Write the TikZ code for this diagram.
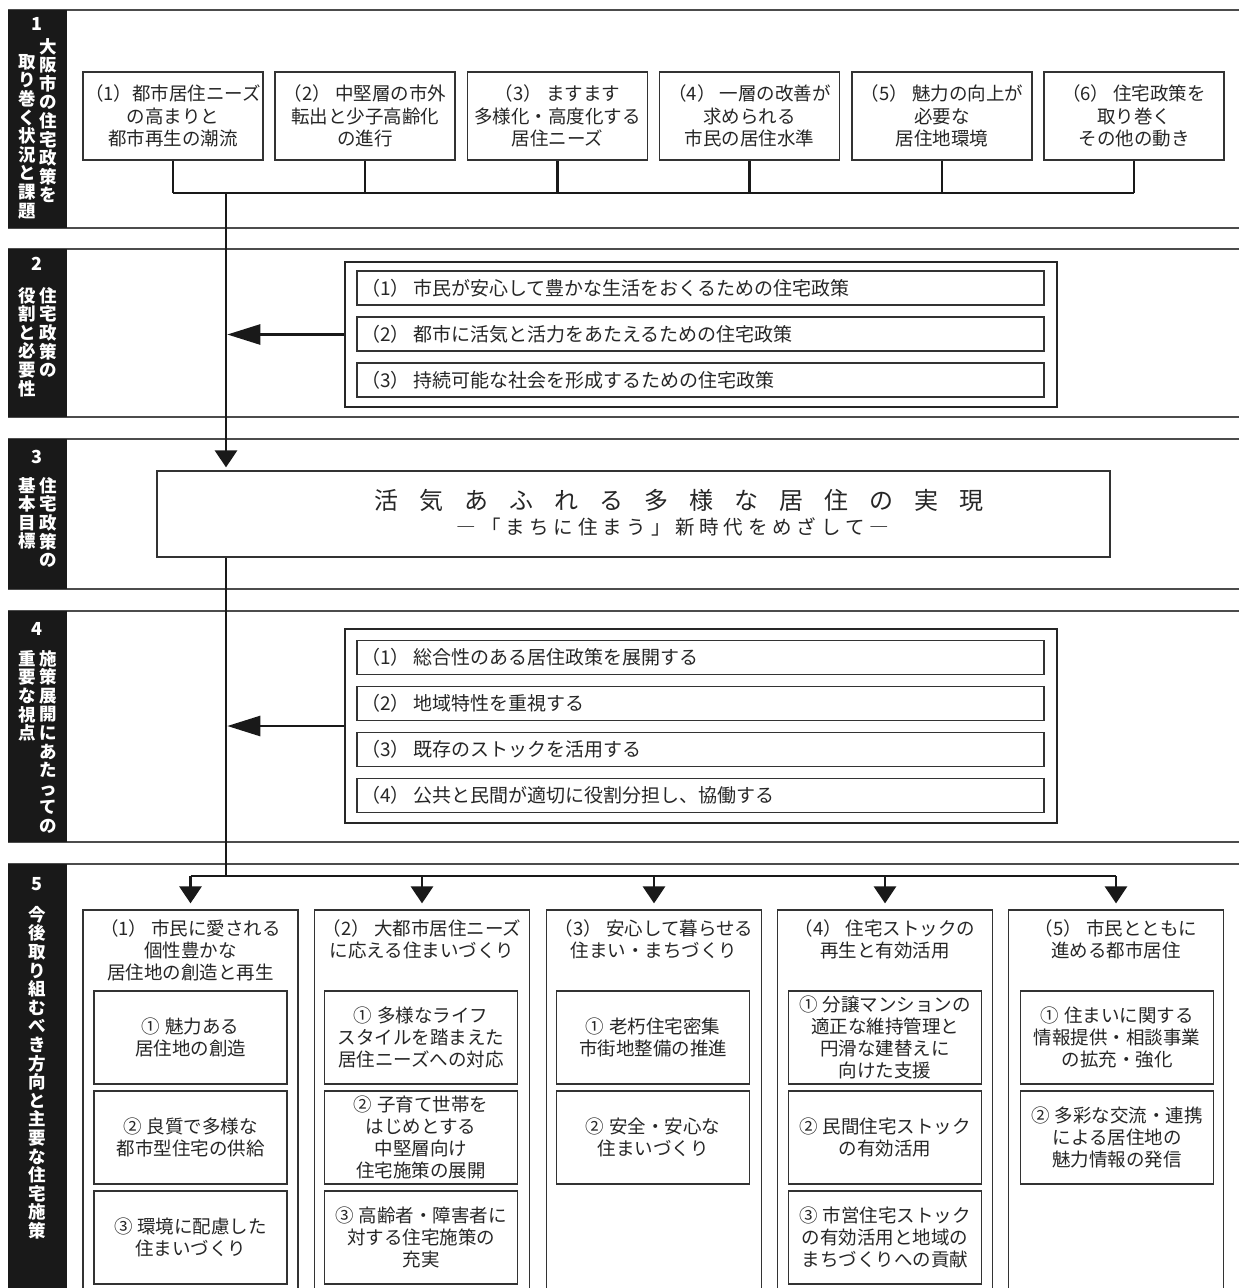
\documentclass[tikz,border=0pt]{standalone}
\usepackage{fontspec}
\setmainfont{Noto Sans CJK JP}
\newfontfamily\jp{Noto Sans CJK JP}
\usetikzlibrary{arrows.meta}
\newlength\ltrgap
\def\ltrloop#1#2\endltr{#1\ifx\relax#2\relax\else\hspace{\ltrgap}\ltrloop#2\endltr\fi}
\newcommand\ltr[2]{\setlength\ltrgap{#1}\ltrloop#2\endltr}
\newcommand\pn[1]{（#1）\hspace{4pt}}
\newcommand\cn[1]{#1\hspace{5pt}}
\begin{document}
\begin{tikzpicture}[x=1pt,y=-1pt,
  bandline/.style={draw=black!70, line width=1.5pt},
  sidebar/.style={fill=black!90},
  secnum/.style={text=white, font=\jp\bfseries\fontsize{18}{18}\selectfont, inner sep=0pt},
  vtext/.style={text=white, font=\jp\bfseries\fontsize{17.5}{18.6}\selectfont, align=center, inner sep=0pt, anchor=north},
  sbox/.style={draw=black!80, line width=1.2pt, inner sep=0pt, align=center, text=black!85,
     font=\jp\fontsize{18.5}{22.5}\selectfont, minimum width=180pt, minimum height=88pt},
  outerbox/.style={draw=black!85, line width=1.6pt, inner sep=0pt, minimum width=712pt},
  lbox/.style={draw=black!80, line width=1.2pt, inner xsep=4pt, inner ysep=0pt, align=left, text=black!85,
     font=\jp\fontsize{19}{22}\selectfont, text width=679pt, minimum height=34pt},
  goalbox/.style={draw=black!80, line width=1.2pt, inner sep=0pt, minimum width=953pt, minimum height=86pt},
  colbox/.style={draw=black!80, line width=1.2pt, inner sep=0pt, minimum width=215pt, minimum height=400pt},
  ctitle/.style={inner sep=0pt, align=center, text=black!85, font=\jp\fontsize{18.5}{22}\selectfont, anchor=north},
  ibox/.style={draw=black!80, line width=1.2pt, inner sep=0pt, align=center, text=black!85,
     font=\jp\fontsize{18.5}{22}\selectfont, minimum width=193pt, minimum height=93pt},
  conn/.style={draw=black!90, line width=2.6pt},
  htip/.style={-{Triangle[width=20pt,length=33pt]}},
  vtip/.style={-{Triangle[width=22pt,length=17pt]}},
]
\useasboundingbox (0,0) rectangle (1239,1288);
\fill[white] (0,0) rectangle (1239,1288);

% ---------- section bands ----------
\foreach \t/\b in {10/228, 249/417, 439/589, 611/842} {
  \draw[bandline] (8,\t) -- (1239,\t);
  \draw[bandline] (8,\b) -- (1239,\b);
  \fill[sidebar] (8,\t) rectangle (67,\b);
}
\draw[bandline] (8,864) -- (1239,864);
\fill[sidebar] (8,864) rectangle (67,1290);

% ---------- sidebar labels ----------
\node[secnum] (n1) at (37,24) {1};
\node[vtext] (v1a) at (48,38) {大\\阪\\市\\の\\住\\宅\\政\\策\\を};
\node[vtext] (v1b) at (27,54) {取\\り\\巻\\く\\状\\況\\と\\課\\題};
\node[secnum] (n2) at (37,264) {2};
\node[vtext] (v2a) at (48,287) {住\\宅\\政\\策\\の};
\node[vtext] (v2b) at (27,287) {役\\割\\と\\必\\要\\性};
\node[secnum] (n3) at (37,457) {3};
\node[vtext] (v3a) at (48,477) {住\\宅\\政\\策\\の};
\node[vtext] (v3b) at (27,477) {基\\本\\目\\標};
\node[secnum] (n4) at (37,629) {4};
\node[vtext] (v4a) at (48,650) {施\\策\\展\\開\\に\\あ\\た\\っ\\て\\の};
\node[vtext] (v4b) at (27,650) {重\\要\\な\\視\\点};
\node[secnum] (n5) at (37,884) {5};
\node[vtext] (v5a) at (37,906) {今\\後\\取\\り\\組\\む\\べ\\き\\方\\向\\と\\主\\要\\な\\住\\宅\\施\\策};

% ---------- section 1 ----------
\node[sbox] (a1) at (173,116) {（1）都市居住ニーズ\\の高まりと\\都市再生の潮流};
\node[sbox] (a2) at (365,116) {\pn{2}中堅層の市外\\転出と少子高齢化\\の進行};
\node[sbox] (a3) at (557.5,116) {\pn{3}ますます\\多様化・高度化する\\居住ニーズ};
\node[sbox] (a4) at (749.5,116) {\pn{4}一層の改善が\\求められる\\市民の居住水準};
\node[sbox] (a5) at (942,116) {\pn{5}魅力の向上が\\必要な\\居住地環境};
\node[sbox] (a6) at (1134,116) {\pn{6}住宅政策を\\取り巻く\\その他の動き};
\coordinate (j1) at (226,193);
\foreach \n in {a1,a2,a3,a4,a5,a6} { \draw[conn] (\n.south) -- (\n.south |- j1); }
\draw[conn] (a1.south |- j1) -- (a6.south |- j1);

% ---------- section 2 ----------
\node[outerbox, minimum height=145pt] (p2) at (701,334.5) {};
\node[lbox] (p2a) at (700.5,288) {\pn{1}市民が安心して豊かな生活をおくるための住宅政策};
\node[lbox] (p2b) at (700.5,334) {\pn{2}都市に活気と活力をあたえるための住宅政策};
\node[lbox] (p2c) at (700.5,380) {\pn{3}持続可能な社会を形成するための住宅政策};
\draw[conn, htip, shorten >=1.3pt] (p2.west) -- (p2.west -| j1);

% ---------- section 3 ----------
\node[goalbox] (g) at (633.5,514) {};
\node[inner sep=0pt, text=black!85, font=\jp\fontsize{24}{24}\selectfont] (gt) at (678.5,500)
  {\ltr{21pt}{活気あふれる多様な居住の実現}};
\node[inner sep=0pt, text=black!85, font=\jp\fontsize{19.5}{19.5}\selectfont] (gs) at (673,527)
  {\ltr{4.8pt}{―「まちに住まう」新時代をめざして―}};
\draw[conn, vtip, shorten >=3pt] (j1) -- (g.north -| j1);

% ---------- section 4 ----------
\node[outerbox, minimum height=194pt] (p4) at (701,726) {};
\node[lbox] (p4a) at (700.5,657.5) {\pn{1}総合性のある居住政策を展開する};
\node[lbox] (p4b) at (700.5,703.5) {\pn{2}地域特性を重視する};
\node[lbox] (p4c) at (700.5,749.5) {\pn{3}既存のストックを活用する};
\node[lbox] (p4d) at (700.5,795.5) {\pn{4}公共と民間が適切に役割分担し、協働する};
\draw[conn, htip, shorten >=1.3pt] (p4.west) -- (p4.west -| j1);

% ---------- section 5 ----------
\coordinate (j5) at (226,876);
\draw[conn] (g.south -| j1) -- (j5);
\node[colbox] (c1) at (190.5,1110) {};
\node[colbox] (c2) at (422,1110) {};
\node[colbox] (c3) at (654,1110) {};
\node[colbox] (c4) at (885,1110) {};
\node[colbox] (c5) at (1116,1110) {};
\draw[conn] (c1.north |- j5) -- (c5.north |- j5);
\foreach \c in {c1,c2,c3,c4,c5} { \draw[conn, vtip, shorten >=6pt] (\c.north |- j5) -- (\c.north); }

\node[ctitle] (c1t) at ([yshift=-10pt]c1.north) {\pn{1}市民に愛される\\個性豊かな\\居住地の創造と再生};
\node[ctitle] (c2t) at ([yshift=-10pt]c2.north) {\pn{2}大都市居住ニーズ\\に応える住まいづくり};
\node[ctitle] (c3t) at ([yshift=-10pt]c3.north) {\pn{3}安心して暮らせる\\住まい・まちづくり};
\node[ctitle] (c4t) at ([yshift=-10pt]c4.north) {\pn{4}住宅ストックの\\再生と有効活用};
\node[ctitle] (c5t) at ([yshift=-10pt]c5.north) {\pn{5}市民とともに\\進める都市居住};

\node[ibox] (c1a) at (190.5,1037.5) {\cn{①}魅力ある\\居住地の創造};
\node[ibox] (c1b) at (190.5,1137.5) {\cn{②}良質で多様な\\都市型住宅の供給};
\node[ibox] (c1c) at (190.5,1237.5) {\cn{③}環境に配慮した\\住まいづくり};

\node[ibox] (c2a) at (421,1037.5) {\cn{①}多様なライフ\\スタイルを踏まえた\\居住ニーズへの対応};
\node[ibox] (c2b) at (421,1137.5) {\cn{②}子育て世帯を\\はじめとする\\中堅層向け\\住宅施策の展開};
\node[ibox] (c2c) at (421,1237.5) {\cn{③}高齢者・障害者に\\対する住宅施策の\\充実};

\node[ibox] (c3a) at (653,1037.5) {\cn{①}老朽住宅密集\\市街地整備の推進};
\node[ibox] (c3b) at (653,1137.5) {\cn{②}安全・安心な\\住まいづくり};

\node[ibox] (c4a) at (885,1037.5) {\cn{①}分譲マンションの\\適正な維持管理と\\円滑な建替えに\\向けた支援};
\node[ibox] (c4b) at (885,1137.5) {\cn{②}民間住宅ストック\\の有効活用};
\node[ibox] (c4c) at (885,1237.5) {\cn{③}市営住宅ストック\\の有効活用と地域の\\まちづくりへの貢献};

\node[ibox] (c5a) at (1117,1037.5) {\cn{①}住まいに関する\\情報提供・相談事業\\の拡充・強化};
\node[ibox] (c5b) at (1117,1137.5) {\cn{②}多彩な交流・連携\\による居住地の\\魅力情報の発信};
\end{tikzpicture}
\end{document}
